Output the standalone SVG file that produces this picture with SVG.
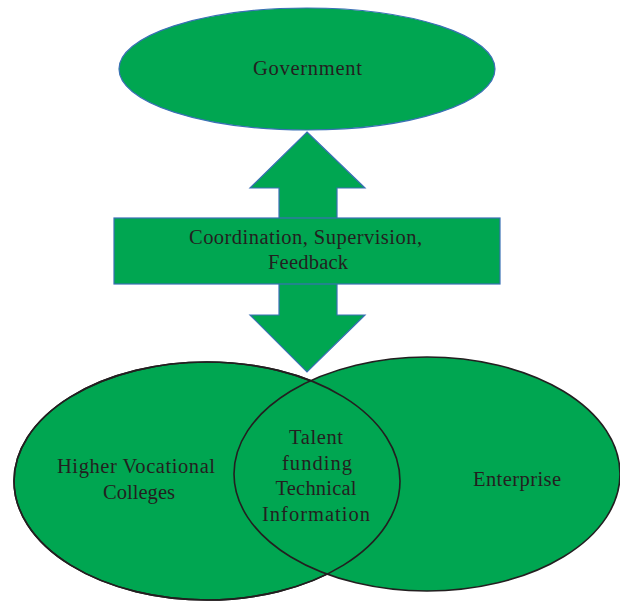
<svg xmlns="http://www.w3.org/2000/svg" width="620" height="603" viewBox="0 0 620 603">
  <style>
    .node { fill: #00a651; }
    .blue { stroke: #3a70b5; stroke-width: 1.2; }
    .dark { stroke: #231f20; stroke-width: 1.6; }
    text { font-family: "Liberation Serif", "Times New Roman", serif; font-size: 20.5px; fill: #231f20; text-anchor: middle; }
  </style>
  <rect width="620" height="603" fill="#ffffff"/>

  <!-- Venn: colleges and enterprise -->
  <g id="colleges">
    <ellipse class="node dark" cx="207" cy="481" rx="193" ry="119"/>
  </g>
  <g id="enterprise">
    <ellipse class="node dark" cx="427" cy="474" rx="193" ry="117"/>
  </g>
  <g id="overlap">
    <!-- right arc of the colleges ellipse, visible inside the lens -->
    <ellipse cx="207" cy="481" rx="193" ry="119" fill="none" class="dark"/>
    <text x="316" y="444" textLength="54" lengthAdjust="spacing">Talent</text>
    <text x="317" y="470" textLength="70" lengthAdjust="spacing">funding</text>
    <text x="316" y="495" textLength="81" lengthAdjust="spacing">Technical</text>
    <text x="316" y="521" textLength="108" lengthAdjust="spacing">Information</text>
  </g>
  <text x="136" y="473" textLength="158" lengthAdjust="spacing">Higher Vocational</text>
  <text x="139" y="499" textLength="72" lengthAdjust="spacing">Colleges</text>
  <text x="517" y="486" textLength="88" lengthAdjust="spacing">Enterprise</text>

  <g id="government">
    <ellipse class="node blue" cx="307" cy="69" rx="188" ry="61"/>
    <text x="307.5" y="75" textLength="109" lengthAdjust="spacing">Government</text>
  </g>

  <!-- two-way arrow between government and the Venn -->
  <g id="connectors">
    <polygon class="node blue" points="307,132 365,188 337,188 337,315 365,315 307,372 250,315 279,315 279,188 250,188"/>
  </g>

  <g id="coordination">
    <rect class="node blue" x="114" y="218" width="386" height="66"/>
    <text x="305.5" y="244" textLength="233" lengthAdjust="spacing">Coordination, Supervision,</text>
    <text x="308" y="269" textLength="80" lengthAdjust="spacing">Feedback</text>
  </g>
</svg>
